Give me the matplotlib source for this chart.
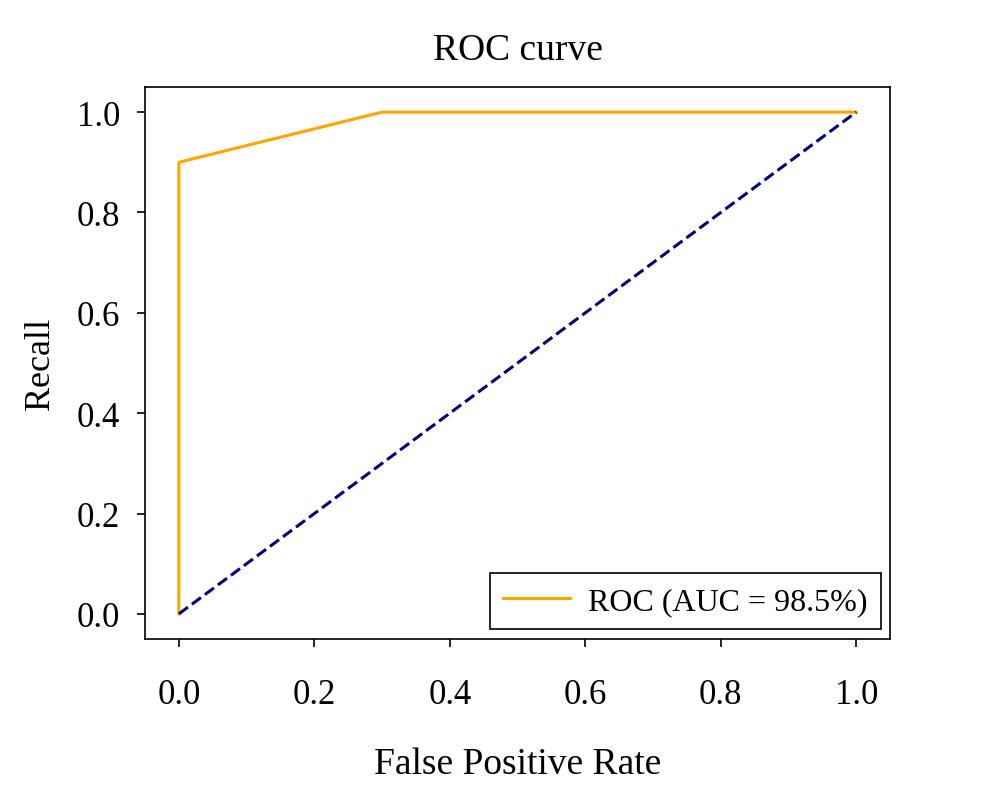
import matplotlib
matplotlib.use("Agg")
import matplotlib.pyplot as plt

plt.rcParams['font.family'] = ['Liberation Serif', 'DejaVu Serif']

# ROC points
fpr = [0.0, 0.0, 0.3, 1.0]
tpr = [0.0, 0.9, 1.0, 1.0]
chance = [0.0, 1.0]
auc_label = "ROC (AUC = 98.5%)"
ticks = [0.0, 0.2, 0.4, 0.6, 0.8, 1.0]

fig = plt.figure(figsize=(9.83, 8.04), dpi=100)
ax = fig.add_axes([0.1475, 0.204, 0.758, 0.6865])

ax.plot(fpr, tpr, color="orange", lw=2.2, label=auc_label)
ax.plot(chance, chance, color="navy", lw=2.2, ls="--")

ax.set_xlim(-0.05, 1.05)
ax.set_ylim(-0.05, 1.05)
ax.set_xticks(ticks)
ax.set_yticks(ticks)
ax.set_xticklabels([f"{t:.1f}" for t in ticks])
ax.set_yticklabels([f"{t:.1f}" for t in ticks])
ax.tick_params(labelsize=25, length=6, width=1.2, pad=12)
ax.tick_params(axis="x", pad=22)
for s in ax.spines.values():
    s.set_linewidth(1.2)

ax.set_title("ROC curve", fontsize=27, pad=20)
ax.set_xlabel("False Positive Rate", fontsize=27, labelpad=26)
ax.set_ylabel("Recall", fontsize=26, labelpad=14)

leg = ax.legend(loc="lower right", fontsize=23, fancybox=False, framealpha=1,
                edgecolor="black", borderpad=0.42, handlelength=2.1,
                handletextpad=0.55, borderaxespad=0.3)
leg.get_frame().set_linewidth(1.2)

fig.savefig("out.png", dpi=100)
